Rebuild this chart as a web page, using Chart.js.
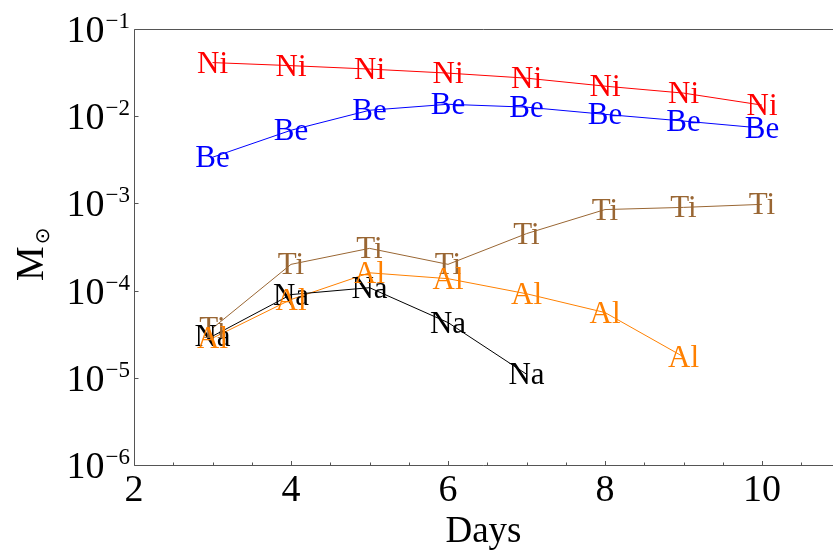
<!DOCTYPE html>
<html><head><meta charset="utf-8">
<script src="https://cdn.jsdelivr.net/npm/chart.js@4.4.0/dist/chart.umd.min.js"></script>
<style>html,body{margin:0;padding:0;background:#fff;overflow:hidden}#wrap{width:833px;height:554px}</style>
</head><body><div id="wrap"><canvas id="c" width="833" height="554"></canvas></div>
<script>
const days = [3, 4, 5, 6, 7, 8, 9, 10];
const niValues = [0.0412, 0.038, 0.0347, 0.0312, 0.0273, 0.0221, 0.0184, 0.0134];
const beValues = [0.00338, 0.0069, 0.0117, 0.0137, 0.0127, 0.0105, 0.0088, 0.0073];
const naValues = [3.0e-5, 9.0e-5, 1.08e-4, 4.3e-5, 1.1e-5];
const tiValues = [3.7e-5, 2.0e-4, 3.05e-4, 2.0e-4, 4.5e-4, 8.5e-4, 9.0e-4, 9.75e-4];
const alValues = [2.85e-5, 7.9e-5, 1.6e-4, 1.37e-4, 9.2e-5, 5.6e-5, 1.74e-5];
const seriesNames = ['Ni', 'Be', 'Na', 'Ti', 'Al'];
const seriesColors = ['#ff0000', '#0000ff', '#000000', '#996633', '#ff8000'];
const xTicks = [2, 4, 6, 8, 10];
const xMinorTicks = [2.5, 3, 3.5, 4.5, 5, 5.5, 6.5, 7, 7.5, 8.5, 9, 9.5, 10.5];
const yTicks = [1e-6, 1e-5, 1e-4, 1e-3, 1e-2, 1e-1];
const xTitle = 'Days';
const yTitleMain = 'M';
const yTitleSub = '\u2299';

const SERIF = '"Liberation Serif", "Times New Roman", serif';
const allValues = [niValues, beValues, naValues, tiValues, alValues];

const datasets = seriesNames.map((name, i) => ({
  label: name,
  data: allValues[i].map((v, k) => ({ x: days[k], y: v })),
  borderColor: seriesColors[i],
  backgroundColor: seriesColors[i],
  borderWidth: 1,
  pointRadius: 0,
  tension: 0,
  fill: false
}));

const decor = {
  id: 'decor',
  afterDatasetsDraw(chart) {
    const ctx = chart.ctx;
    ctx.save();
    ctx.font = '31px ' + SERIF;
    ctx.textAlign = 'center';
    ctx.textBaseline = 'alphabetic';
    chart.data.datasets.forEach((ds, i) => {
      const meta = chart.getDatasetMeta(i);
      ctx.fillStyle = ds.borderColor;
      meta.data.forEach(el => {
        ctx.fillText(ds.label, el.x, el.y + 10);
      });
    });
    ctx.restore();
  },
  afterDraw(chart) {
    const { ctx, chartArea: a, scales: { x, y } } = chart;
    ctx.save();
    ctx.strokeStyle = '#555';
    ctx.lineWidth = 1;
    const L = Math.round(a.left) + 0.5, T = Math.round(a.top) + 0.5, B = Math.round(a.bottom) + 0.5;
    ctx.beginPath();
    ctx.moveTo(chart.width, T); ctx.lineTo(L, T); ctx.lineTo(L, B); ctx.lineTo(chart.width, B);
    ctx.stroke();
    ctx.beginPath();
    yTicks.forEach(v => {
      const py = Math.round(y.getPixelForValue(v)) + 0.5;
      ctx.moveTo(L, py); ctx.lineTo(L + 4, py);
    });
    xTicks.forEach(v => {
      const px = Math.round(x.getPixelForValue(v)) + 0.5;
      ctx.moveTo(px, B); ctx.lineTo(px, B - 4.5);
    });
    xMinorTicks.forEach(v => {
      const px = Math.round(x.getPixelForValue(v)) + 0.5;
      ctx.moveTo(px, B); ctx.lineTo(px, B - 3);
    });
    ctx.stroke();
    ctx.fillStyle = '#000';
    ctx.textBaseline = 'alphabetic';
    ctx.textAlign = 'right';
    yTicks.forEach(v => {
      const py = y.getPixelForValue(v);
      const exp = Math.round(Math.log10(v));
      const sup = (exp < 0 ? '\u2212' : '') + Math.abs(exp);
      ctx.font = '23px ' + SERIF;
      const sw = ctx.measureText(sup).width;
      ctx.fillText(sup, 130, py - 1);
      ctx.font = '38px ' + SERIF;
      ctx.fillText('10', 130 - sw - 1, py + 13);
    });
    ctx.translate(43, 281);
    ctx.rotate(-Math.PI / 2);
    ctx.textAlign = 'left';
    ctx.font = '39px ' + SERIF;
    ctx.fillText(yTitleMain, 0, 0);
    const mw = ctx.measureText(yTitleMain).width;
    ctx.font = '20px "DejaVu Sans", sans-serif';
    ctx.fillText(yTitleSub, mw + 2, 6);
    ctx.restore();
  }
};

new Chart(document.getElementById('c'), {
  type: 'line',
  data: { datasets },
  options: {
    responsive: false,
    animation: false,
    devicePixelRatio: 1,
    layout: { padding: { top: 29, right: 0, left: 0, bottom: 0 } },
    plugins: { legend: { display: false }, tooltip: { enabled: false } },
    scales: {
      x: {
        type: 'linear',
        min: 2,
        max: 2 + 699 / 78.5,
        afterBuildTicks: s => { s.ticks = xTicks.map(v => ({ value: v })); },
        afterFit: s => { s.height = 89; },
        grid: { display: false, drawTicks: false },
        border: { display: false },
        ticks: { color: '#000', font: { family: SERIF, size: 38 }, padding: 3, maxRotation: 0, autoSkip: false, callback: v => String(v) },
        title: { display: true, text: xTitle, color: '#000', font: { family: SERIF, size: 37 }, padding: { top: 0, bottom: 0 } }
      },
      y: {
        type: 'logarithmic',
        min: 1e-6,
        max: 1e-1,
        afterBuildTicks: s => { s.ticks = yTicks.map(v => ({ value: v })); },
        afterFit: s => { s.width = 134; },
        grid: { display: false, drawTicks: false },
        border: { display: false },
        ticks: { display: false }
      }
    }
  },
  plugins: [decor]
});
</script></body></html>
